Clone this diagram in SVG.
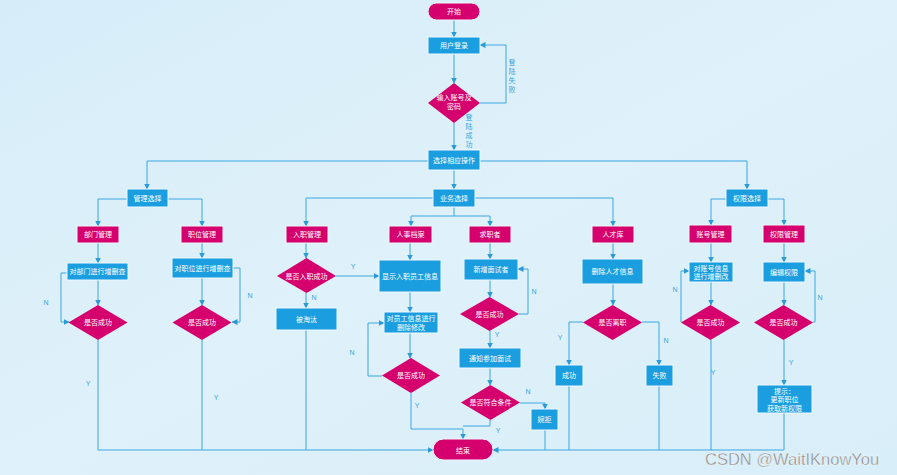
<svg xmlns="http://www.w3.org/2000/svg" width="897" height="475" viewBox="0 0 897 475">
<defs>
<linearGradient id="bg" x1="0" y1="0" x2="1" y2="1">
<stop offset="0" stop-color="#d6edf9"/>
<stop offset="0.5" stop-color="#dff1fa"/>
<stop offset="1" stop-color="#d8eef9"/>
</linearGradient>
<marker id="ah" markerUnits="userSpaceOnUse" markerWidth="6" markerHeight="6" refX="5.5" refY="3" orient="auto">
<path d="M0,0 L6,3 L0,6 z" fill="#2a9ad8"/>
</marker>
<style>
.b{fill:#1a9ee0;stroke:#eef8fe;stroke-width:1}
.m{fill:#d5006d;stroke:#eef8fe;stroke-width:1}
.d{fill:#d5006d}
.t{font-family:"Noto Sans CJK SC","Liberation Sans",sans-serif;font-size:7px;fill:#ffffff;text-anchor:middle}
.l{font-family:"Liberation Sans","Noto Sans CJK SC",sans-serif;font-size:7px;fill:#3aa3de;text-anchor:middle}
.lv{font-family:"Noto Sans CJK SC",sans-serif;font-size:7px;fill:#3aa3de;text-anchor:middle}
.c{fill:none;stroke:#3aa6e0;stroke-width:1}
.a{marker-end:url(#ah)}
</style>
</defs>
<rect width="897" height="475" fill="url(#bg)"/>

<g id="connectors">
<path class="c a" d="M454,20 V37"/>
<path class="c a" d="M454,54 V83"/>
<path class="c a" d="M480,103 H506 V45 H480"/>
<path class="c a" d="M454,123 V150"/>
<path class="c a" d="M428,161 H147 V189"/>
<path class="c a" d="M454,170 V189"/>
<path class="c a" d="M480,161 H747 V189"/>
<path class="c a" d="M127,199 H98 V226"/>
<path class="c a" d="M168,199 H202 V226"/>
<path class="c a" d="M98,243 V263"/>
<path class="c a" d="M98,280 V305"/>
<path class="c a" d="M67,273 H61 V322 H69"/>
<path class="c a" d="M202,243 V258"/>
<path class="c a" d="M202,278 V305"/>
<path class="c a" d="M233,268 H240 V322 H232"/>
<path class="c a" d="M98,340 V450 H433"/>
<path class="c" d="M202,340 V450"/>
<path class="c a" d="M433,198 H306 V226"/>
<path class="c a" d="M475,198 H613 V226"/>
<path class="c" d="M454,207 V216 M411,216 H490"/>
<path class="c a" d="M411,216 V226"/>
<path class="c a" d="M490,216 V226"/>
<path class="c a" d="M306,243 V258"/>
<path class="c a" d="M336,276 H379"/>
<path class="c a" d="M306,293 V308"/>
<path class="c" d="M306,330 V450"/>
<path class="c a" d="M410,243 V260"/>
<path class="c a" d="M410,292 V312"/>
<path class="c a" d="M410,333 V358"/>
<path class="c a" d="M382,376 H368 V323 H384"/>
<path class="c a" d="M411,393 V429 H463 V439"/>
<path class="c a" d="M490,243 V259"/>
<path class="c a" d="M490,280 V297"/>
<path class="c a" d="M519,314 H528 V269 H518"/>
<path class="c a" d="M490,331 V348"/>
<path class="c a" d="M490,368 V385"/>
<path class="c" d="M490,420 V426 H463"/>
<path class="c a" d="M520,403 H545 V409"/>
<path class="c" d="M545,430 V450"/>
<path class="c a" d="M613,243 V259"/>
<path class="c a" d="M613,284 V305"/>
<path class="c a" d="M583,322 H569 V365"/>
<path class="c a" d="M642,322 H659 V365"/>
<path class="c" d="M569,386 V450"/>
<path class="c" d="M659,386 V450"/>
<path class="c a" d="M784,450 H493"/>
<path class="c a" d="M726,199 H711 V225"/>
<path class="c a" d="M768,199 H784 V225"/>
<path class="c a" d="M711,243 V262"/>
<path class="c a" d="M711,282 V305"/>
<path class="c a" d="M681,322 V271 H689"/>
<path class="c a" d="M784,243 V262"/>
<path class="c a" d="M784,282 V305"/>
<path class="c a" d="M813,322 H815 V271 H805"/>
<path class="c" d="M711,340 V450"/>
<path class="c a" d="M784,340 V385"/>
<path class="c" d="M784,413 V450"/>

<text class="lv"><tspan x="512" y="65">登</tspan><tspan x="512" y="74">陆</tspan><tspan x="512" y="83">失</tspan><tspan x="512" y="92">败</tspan></text>
<text class="lv"><tspan x="469" y="120">登</tspan><tspan x="469" y="129">陆</tspan><tspan x="469" y="138">成</tspan><tspan x="469" y="147">功</tspan></text>
<text class="l" x="46" y="305">N</text>
<text class="l" x="88" y="386">Y</text>
<text class="l" x="250" y="298">N</text>
<text class="l" x="216" y="400">Y</text>
<text class="l" x="353" y="269">Y</text>
<text class="l" x="314" y="300">N</text>
<text class="l" x="352" y="355">N</text>
<text class="l" x="417" y="408">Y</text>
<text class="l" x="534" y="294">N</text>
<text class="l" x="497" y="337">Y</text>
<text class="l" x="528" y="394">N</text>
<text class="l" x="498" y="433">Y</text>
<text class="l" x="560" y="340">Y</text>
<text class="l" x="666" y="343">N</text>
<text class="l" x="675" y="292">N</text>
<text class="l" x="713" y="375">Y</text>
<text class="l" x="820" y="300">N</text>
<text class="l" x="791" y="365">Y</text>
</g>

<g id="start"><rect class="m" x="428" y="3" width="52" height="17" rx="8.5"/><text class="t" x="454" y="14">开始</text></g>
<g id="login"><rect class="b" x="428" y="37" width="52" height="17"/><text class="t" x="454" y="48">用户登录</text></g>
<g id="input"><polygon class="d" points="454,83 480,103 454,123 428,103"/><text class="t" x="454" y="100">输入账号及</text><text class="t" x="454" y="109">密码</text></g>
<g id="select"><rect class="b" x="428" y="150" width="52" height="20"/><text class="t" x="454" y="163">选择相应操作</text></g>

<g id="mgmt"><rect class="b" x="127" y="189" width="41" height="18"/><text class="t" x="147.5" y="200.5">管理选择</text></g>
<g id="dept"><rect class="m" x="77" y="226" width="42" height="17"/><text class="t" x="98" y="237">部门管理</text></g>
<g id="post"><rect class="m" x="181" y="226" width="42" height="17"/><text class="t" x="202" y="237">职位管理</text></g>
<g id="deptcrud"><rect class="b" x="67" y="263" width="61" height="17"/><text class="t" x="97.5" y="274">对部门进行增删查</text></g>
<g id="postcrud"><rect class="b" x="172" y="258" width="61" height="20"/><text class="t" x="202.5" y="270.5">对职位进行增删查</text></g>
<g id="deptok"><polygon class="d" points="98,305 127.5,322.5 98,340 68.5,322.5"/><text class="t" x="98" y="325">是否成功</text></g>
<g id="postok"><polygon class="d" points="202,305 231.5,322.5 202,340 172.5,322.5"/><text class="t" x="202" y="325">是否成功</text></g>

<g id="biz"><rect class="b" x="433" y="189" width="42" height="18"/><text class="t" x="454" y="200.5">业务选择</text></g>
<g id="onboard"><rect class="m" x="286" y="226" width="42" height="17"/><text class="t" x="307" y="237">入职管理</text></g>
<g id="archive"><rect class="m" x="389" y="226" width="43" height="17"/><text class="t" x="410.5" y="237">人事档案</text></g>
<g id="seeker"><rect class="m" x="469" y="226" width="42" height="17"/><text class="t" x="490" y="237">求职者</text></g>
<g id="onboardok"><polygon class="d" points="306.5,258 336,276 306.5,293 277,276"/><text class="t" x="306.5" y="278.5">是否入职成功</text></g>
<g id="showemp"><rect class="b" x="379" y="260" width="62" height="32"/><text class="t" x="410" y="278.5">显示入职员工信息</text></g>
<g id="eliminated"><rect class="b" x="276" y="308" width="61" height="22"/><text class="t" x="306.5" y="321.5">被淘汰</text></g>
<g id="editemp"><rect class="b" x="384" y="312" width="54" height="21"/><text class="t" x="411" y="321">对员工信息进行</text><text class="t" x="411" y="330">删除修改</text></g>
<g id="empok"><polygon class="d" points="411,358 440,375.5 411,393 382,375.5"/><text class="t" x="411" y="378">是否成功</text></g>
<g id="addint"><rect class="b" x="464" y="259" width="54" height="21"/><text class="t" x="491" y="272">新增面试者</text></g>
<g id="intok"><polygon class="d" points="489.5,297 519,314 489.5,331 460,314"/><text class="t" x="489.5" y="316.5">是否成功</text></g>
<g id="notify"><rect class="b" x="459" y="348" width="62" height="20"/><text class="t" x="490" y="360.5">通知参加面试</text></g>
<g id="qualified"><polygon class="d" points="490.5,385 520,402.5 490.5,420 461,402.5"/><text class="t" x="490.5" y="405">是否符合条件</text></g>
<g id="reject"><rect class="b" x="531" y="409" width="27" height="21"/><text class="t" x="544.5" y="422">婉拒</text></g>
<g id="talent"><rect class="m" x="592" y="226" width="42" height="17"/><text class="t" x="613" y="237">人才库</text></g>
<g id="deltalent"><rect class="b" x="582" y="259" width="61" height="25"/><text class="t" x="612.5" y="274">删除人才信息</text></g>
<g id="resigned"><polygon class="d" points="612.5,305 642,322.5 612.5,340 583,322.5"/><text class="t" x="612.5" y="325">是否离职</text></g>
<g id="success"><rect class="b" x="555" y="365" width="28" height="21"/><text class="t" x="569" y="378">成功</text></g>
<g id="fail"><rect class="b" x="646" y="365" width="27" height="21"/><text class="t" x="659.5" y="378">失败</text></g>
<g id="end"><rect class="m" x="433" y="439" width="60" height="21" rx="10.5"/><text class="t" x="463" y="452.5">结束</text></g>

<g id="perm"><rect class="b" x="726" y="189" width="42" height="18"/><text class="t" x="747" y="200.5">权限选择</text></g>
<g id="account"><rect class="m" x="689" y="225" width="43" height="18"/><text class="t" x="710.5" y="236.5">账号管理</text></g>
<g id="permmgmt"><rect class="m" x="763" y="225" width="42" height="18"/><text class="t" x="784" y="236.5">权限管理</text></g>
<g id="acctcrud"><rect class="b" x="689" y="262" width="44" height="20"/><text class="t" x="711" y="270.5">对账号信息</text><text class="t" x="711" y="279">进行增删改</text></g>
<g id="editperm"><rect class="b" x="763" y="262" width="42" height="20"/><text class="t" x="784" y="274.5">编辑权限</text></g>
<g id="acctok"><polygon class="d" points="710.5,305 740,322.5 710.5,340 681,322.5"/><text class="t" x="710.5" y="325">是否成功</text></g>
<g id="permok"><polygon class="d" points="783.5,305 813,322.5 783.5,340 754,322.5"/><text class="t" x="783.5" y="325">是否成功</text></g>
<g id="tip"><rect class="b" x="757" y="385" width="55" height="28"/><text class="t" x="784.5" y="393.5">提示：</text><text class="t" x="784.5" y="402">更新职位</text><text class="t" x="784.5" y="410.5">获取新权限</text></g>

<text x="705" y="465" font-family="Liberation Sans, sans-serif" font-size="16.5" fill="#8a8a8a" stroke="#ffffff" stroke-width="0.3">CSDN @WaitIKnowYou</text>
</svg>
